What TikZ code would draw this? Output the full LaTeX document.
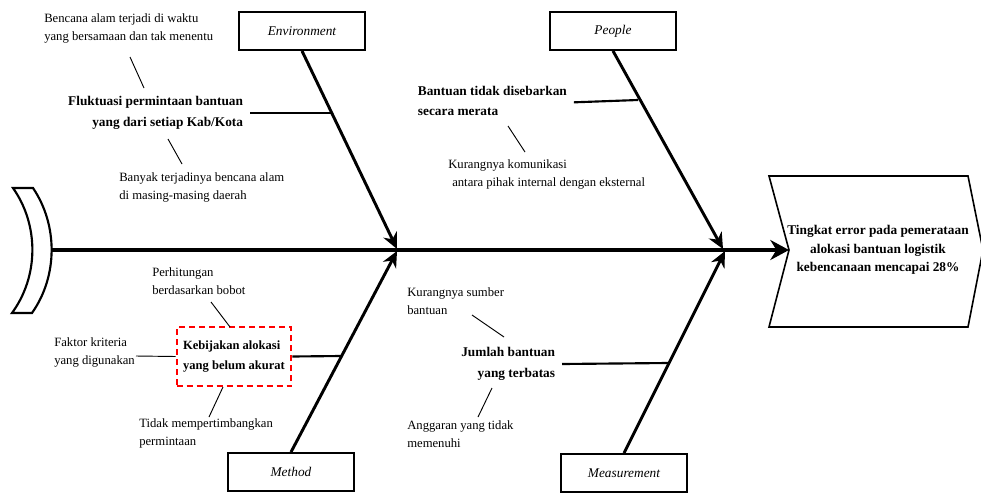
\documentclass[tikz,border=0pt]{standalone}
\usepackage{fontspec}
\setmainfont{Liberation Serif}
\usetikzlibrary{arrows.meta}

\tikzset{
  catbox/.style={draw,line width=1.4pt,minimum width=94pt,minimum height=28.5pt,inner sep=0pt,font=\fontsize{10}{12}\selectfont\itshape},
  cause/.style={font=\fontsize{10}{15.5}\selectfont\bfseries,inner xsep=5pt,inner ysep=0pt},
  effect/.style={font=\fontsize{10}{14}\selectfont\bfseries,align=center,inner sep=0pt},
  note/.style={font=\fontsize{9.5}{13.5}\selectfont,align=left,anchor=west,inner sep=0pt},
  spine/.style={line width=3pt,-{Stealth[length=14pt,width=15pt]}},
  bone/.style={line width=2.2pt,-{Stealth[length=12pt,width=11pt]}},
  subbone/.style={line width=1.6pt},
  twig/.style={line width=0.7pt},
}

\begin{document}
\begin{tikzpicture}[x=0.75pt,y=-0.75pt]
  \useasboundingbox (0,0) rectangle (981,493);

  % Tail
  \draw[line width=1.6pt] (13,188) -- (33,188) .. controls (58,225) and (58,276) .. (32,313)
    -- (12,313) .. controls (39,276) and (39,225) .. (13,188) -- cycle;
  \coordinate (tail) at (52,250);

  % Head
  \draw[line width=1.2pt] (769,176) -- (968,176) -- (983,250) -- (968,327) -- (769,327) -- (789,250) -- cycle;
  \coordinate (headnotch) at (789,250);
  \node[effect] (effect) at (878,250) {Tingkat error pada pemerataan\\alokasi bantuan logistik\\kebencanaan mencapai 28\%};

  % Spine
  \draw[spine] (tail) -- (headnotch);

  % Categories
  \node[catbox] (env) at (302,31) {Environment};
  \node[catbox] (people) at (613,31) {People};
  \node[catbox] (method) at (291,472) {Method};
  \node[catbox] (measure) at (624,473) {Measurement};

  \coordinate (envtip) at (397,249);
  \coordinate (peopletip) at (723,249);
  \coordinate (methodtip) at (397,251);
  \coordinate (measuretip) at (725,251);
  \draw[bone] (env.south) -- (envtip);
  \draw[bone] (people.south) -- (peopletip);
  \draw[bone] (method.north) -- (methodtip);
  \draw[bone] (measure.north) -- (measuretip);

  % Causes
  \coordinate (envjoint) at (331,113);
  \coordinate (peoplejoint) at (638,100);
  \coordinate (methodjoint) at (341,356);
  \coordinate (measurejoint) at (668,363);

  \node[cause,anchor=east,align=right] (fluktuasi) at (250,113) {Fluktuasi permintaan bantuan\\yang dari setiap Kab/Kota};
  \node[cause,anchor=west,align=left] (merata) at (411,101) {Bantuan tidak disebarkan\\secara merata};
  \node[cause,align=left,draw=red,line width=1.5pt,dash pattern=on 4.5pt off 3pt,inner xsep=2pt,
    font=\fontsize{9.4}{15.5}\selectfont\bfseries,
    minimum width=86pt,minimum height=44pt] (kebijakan) at (234,356.5) {Kebijakan alokasi\\yang belum akurat};
  \node[cause,anchor=east,align=right] (jumlah) at (562,364) {Jumlah bantuan\\yang terbatas};

  \draw[subbone] (fluktuasi.east) -- (envjoint);
  \draw[subbone] ([yshift=-1pt]merata.east) -- (peoplejoint);
  \draw[subbone] (kebijakan.east) -- (methodjoint);
  \draw[subbone] (jumlah.east) -- (measurejoint);

  % Sub causes
  \node[note] (bencana) at (44,28) {Bencana alam terjadi di waktu\\yang bersamaan dan tak menentu};
  \node[note] (banyak) at (119,187) {Banyak terjadinya bencana alam\\di masing-masing daerah};
  \node[note] (komunikasi) at (448,174) {Kurangnya komunikasi\\\hspace*{3pt}antara pihak internal dengan eksternal};
  \node[note] (perhitungan) at (152,281) {Perhitungan\\berdasarkan bobot};
  \node[note] (faktor) at (54,352) {Faktor kriteria\\yang digunakan};
  \node[note] (tidak) at (139,433) {Tidak mempertimbangkan\\permintaan};
  \node[note] (sumber) at (407,301) {Kurangnya sumber\\bantuan};
  \node[note] (anggaran) at (407,434) {Anggaran yang tidak\\memenuhi};

  \coordinate (bencanaA) at (130,57);   \coordinate (bencanaB) at (144,88);
  \coordinate (banyakA) at (168,139);   \coordinate (banyakB) at (182,164);
  \coordinate (komunikasiA) at (508,126); \coordinate (komunikasiB) at (525,152);
  \coordinate (perhitunganA) at (211,302); \coordinate (perhitunganB) at (230,327);
  \coordinate (tidakA) at (223,387);    \coordinate (tidakB) at (209,417);
  \coordinate (sumberA) at (472,315);   \coordinate (sumberB) at (504,337);
  \coordinate (anggaranA) at (492,388); \coordinate (anggaranB) at (478,417);
  \coordinate (faktorA) at (136,356);

  \draw[twig] (bencanaA) -- (bencanaB);
  \draw[twig] (banyakA) -- (banyakB);
  \draw[twig] (komunikasiA) -- (komunikasiB);
  \draw[twig] (perhitunganA) -- (perhitunganB);
  \draw[twig] (tidakA) -- (tidakB);
  \draw[twig] (sumberA) -- (sumberB);
  \draw[twig] (anggaranA) -- (anggaranB);
  \draw[twig] (faktorA) -- (kebijakan.west);
\end{tikzpicture}
\end{document}
